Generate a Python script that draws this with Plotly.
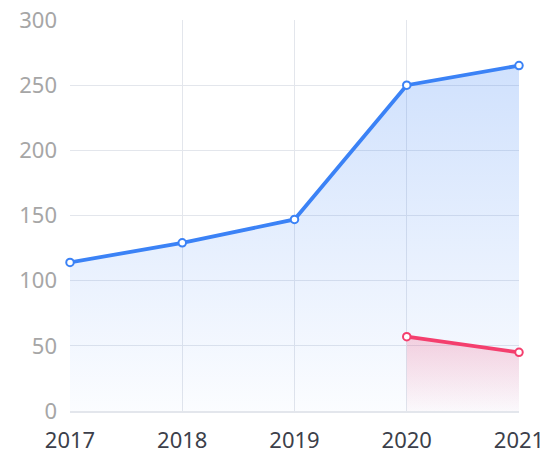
import plotly.graph_objects as go

years = ["2017", "2018", "2019", "2020", "2021"]
blue_values = [114, 129, 147, 250, 265]
red_years = ["2020", "2021"]
red_values = [57, 45]
y_ticks = [0, 50, 100, 150, 200, 250, 300]

BLUE = "#3b82f6"
RED = "#f43f6e"

fig = go.Figure()
fig.add_trace(go.Scatter(
    x=years, y=blue_values, mode="lines+markers",
    line=dict(color=BLUE, width=3.8),
    marker=dict(size=7.5, color="white", line=dict(color=BLUE, width=2)),
    fill="tozeroy",
    fillgradient=dict(type="vertical", colorscale=[[0, "rgba(59,130,246,0.02)"], [1, "rgba(59,130,246,0.24)"]]),
    hoverinfo="skip", cliponaxis=False,
))
fig.add_trace(go.Scatter(
    x=red_years, y=red_values, mode="lines+markers",
    line=dict(color=RED, width=3.8),
    marker=dict(size=7.5, color="white", line=dict(color=RED, width=2)),
    fill="tozeroy",
    fillgradient=dict(type="vertical", colorscale=[[0, "rgba(244,63,110,0.02)"], [1, "rgba(244,63,110,0.22)"]]),
    hoverinfo="skip", cliponaxis=False,
))

fig.update_layout(
    width=552, height=460,
    margin=dict(l=70, r=33, t=20, b=49),
    paper_bgcolor="white", plot_bgcolor="white",
    showlegend=False,
    font=dict(family="Noto Sans, Open Sans, sans-serif"),
)
fig.update_xaxes(
    type="category", range=[0, 4], automargin=False,
    showgrid=True, gridcolor="#e3e6ec", gridwidth=1,
    showline=True, linecolor="#e3e6ec", linewidth=1.5,
    ticks="", ticklabelstandoff=9, ticklabeloverflow="allow",
    tickfont=dict(size=22, color="#3c3f4a"),
    zeroline=False,
)
fig.update_yaxes(
    range=[0, 300], tickvals=y_ticks, automargin=False,
    showgrid=True, gridcolor="#e3e6ec", gridwidth=1,
    showline=False, zeroline=False,
    ticks="", ticklabelstandoff=12, ticklabeloverflow="allow",
    tickfont=dict(size=22, color="#a6a6a6"),
)

# remove the page's default 8px body margin so the 552x460 figure fills the window
fig.write_html(
    "out.html",
    config={"displayModeBar": False},
    post_script="document.body.style.margin='0';",
)
